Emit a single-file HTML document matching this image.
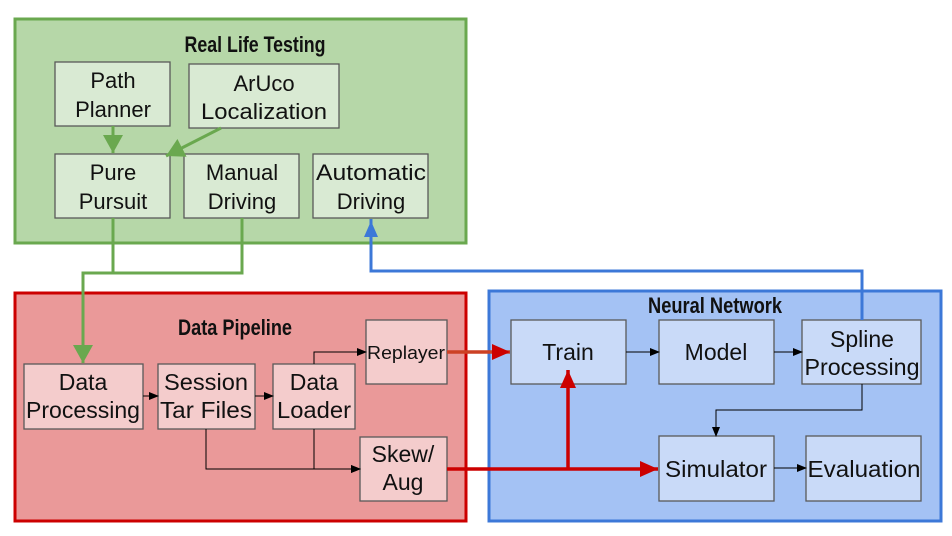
<!DOCTYPE html>
<html><head><meta charset="utf-8"><style>
html,body{margin:0;padding:0;background:#fff;width:952px;height:536px;overflow:hidden}
svg text{font-family:"Liberation Sans",sans-serif;fill:#111}
.t{font-size:22px;text-anchor:middle}
.c{font-size:23px;text-anchor:middle}
.h{font-size:22px;font-weight:bold;text-anchor:middle}
.n{stroke:#595959;stroke-width:1.3}
</style></head><body>
<svg width="952" height="536" viewBox="0 0 952 536" xmlns="http://www.w3.org/2000/svg">
<defs>
<marker id="ab" markerWidth="10" markerHeight="10" refX="9" refY="5" orient="auto" markerUnits="userSpaceOnUse"><path d="M0,1 L10,5 L0,9 z" fill="#000"/></marker>
<marker id="ag" markerWidth="22" markerHeight="24" refX="18" refY="12" orient="auto" markerUnits="userSpaceOnUse"><path d="M0,2 L18,12 L0,22 z" fill="#6aa84f"/></marker>
<marker id="ar" markerWidth="20" markerHeight="20" refX="18" refY="10" orient="auto" markerUnits="userSpaceOnUse"><path d="M0,2 L18,10 L0,18 z" fill="#cc0000"/></marker>
<marker id="abl" markerWidth="20" markerHeight="20" refX="18" refY="10" orient="auto" markerUnits="userSpaceOnUse"><path d="M0,3 L16,10 L0,17 z" fill="#3c78d8"/></marker>
</defs>
<rect x="15" y="19" width="451" height="224" fill="#b6d7a8" stroke="#6aa84f" stroke-width="3"/>
<rect x="15" y="293" width="451" height="228" fill="#ea9999" stroke="#cc0000" stroke-width="3"/>
<rect x="489" y="291" width="452" height="230" fill="#a4c2f4" stroke="#3c78d8" stroke-width="3"/>
<text class="h" x="255" y="52" textLength="141" lengthAdjust="spacingAndGlyphs">Real Life Testing</text>
<text class="h" x="235" y="335" textLength="114" lengthAdjust="spacingAndGlyphs">Data Pipeline</text>
<text class="h" x="715" y="313" textLength="134" lengthAdjust="spacingAndGlyphs">Neural Network</text>
<g fill="#d9ead3">
<rect class="n" x="55" y="62" width="115" height="64"/>
<rect class="n" x="189" y="64" width="150" height="64"/>
<rect class="n" x="55" y="154" width="115" height="64"/>
<rect class="n" x="184" y="154" width="115" height="64"/>
<rect class="n" x="313" y="154" width="115" height="64"/>
</g>
<text class="t" x="113" y="88">Path</text><text class="t" x="113" y="117">Planner</text>
<text class="t" x="264" y="91">ArUco</text><text class="t" x="264" y="119" textLength="126" lengthAdjust="spacingAndGlyphs">Localization</text>
<text class="t" x="113" y="180">Pure</text><text class="t" x="113" y="209">Pursuit</text>
<text class="t" x="242" y="180">Manual</text><text class="t" x="242" y="209">Driving</text>
<text class="t" x="371" y="180" textLength="110" lengthAdjust="spacingAndGlyphs">Automatic</text><text class="t" x="371" y="209">Driving</text>
<g fill="#f4cccc">
<rect class="n" x="24" y="364" width="119" height="65"/>
<rect class="n" x="158" y="364" width="97" height="65"/>
<rect class="n" x="273" y="364" width="82" height="65"/>
<rect class="n" x="366" y="320" width="81" height="64"/>
<rect class="n" x="360" y="437" width="87" height="64"/>
</g>
<text class="c" x="83" y="390">Data</text><text class="c" x="83" y="418" textLength="114" lengthAdjust="spacingAndGlyphs">Processing</text>
<text class="c" x="206" y="390" textLength="84" lengthAdjust="spacingAndGlyphs">Session</text><text class="c" x="206" y="418" textLength="92" lengthAdjust="spacingAndGlyphs">Tar Files</text>
<text class="c" x="314" y="390">Data</text><text class="c" x="314" y="418" textLength="74" lengthAdjust="spacingAndGlyphs">Loader</text>
<text class="t" x="406" y="359" style="font-size:18px" textLength="78" lengthAdjust="spacingAndGlyphs">Replayer</text>
<text class="c" x="403" y="462">Skew/</text><text class="c" x="403" y="490">Aug</text>
<g fill="#c9daf8">
<rect class="n" x="511" y="320" width="115" height="64"/>
<rect class="n" x="659" y="320" width="115" height="64"/>
<rect class="n" x="802" y="320" width="119" height="64"/>
<rect class="n" x="659" y="436" width="115" height="65"/>
<rect class="n" x="806" y="436" width="115" height="65"/>
</g>
<text class="c" x="568" y="360">Train</text>
<text class="c" x="716" y="360">Model</text>
<text class="c" x="862" y="347">Spline</text><text class="c" x="862" y="375" textLength="115" lengthAdjust="spacingAndGlyphs">Processing</text>
<text class="c" x="716" y="477" textLength="102" lengthAdjust="spacingAndGlyphs">Simulator</text>
<text class="c" x="864" y="477" textLength="113" lengthAdjust="spacingAndGlyphs">Evaluation</text>
<line x1="113" y1="126" x2="113" y2="153" stroke="#6aa84f" stroke-width="3" marker-end="url(#ag)"/>
<line x1="221" y1="128" x2="166" y2="156" stroke="#6aa84f" stroke-width="3" marker-end="url(#ag)"/>
<polyline points="113,218 113,273" fill="none" stroke="#6aa84f" stroke-width="3"/>
<polyline points="242,218 242,273 83,273 83,363" fill="none" stroke="#6aa84f" stroke-width="3" marker-end="url(#ag)"/>
<polyline points="862,320 862,271 371,271 371,219" fill="none" stroke="#3c78d8" stroke-width="3" marker-end="url(#abl)"/>
<g stroke="#000" stroke-width="1" fill="none" marker-end="url(#ab)">
<line x1="143" y1="396" x2="158" y2="396"/>
<line x1="255" y1="396" x2="273" y2="396"/>
<polyline points="314,364 314,352 366,352"/>
<polyline points="206,429 206,469 360,469"/>
<polyline points="314,429 314,469 360,469"/>
<line x1="626" y1="352" x2="659" y2="352"/>
<line x1="774" y1="352" x2="802" y2="352"/>
<polyline points="862,384 862,410 716,410 716,436"/>
<line x1="774" y1="468" x2="806" y2="468"/>
</g>
<line x1="447" y1="352" x2="510" y2="352" stroke="#cc4125" stroke-width="3.5" marker-end="url(#ar)"/>
<line x1="447" y1="469" x2="658" y2="469" stroke="#cc0000" stroke-width="3.5" marker-end="url(#ar)"/>
<line x1="568" y1="469" x2="568" y2="370" stroke="#cc0000" stroke-width="3.5" marker-end="url(#ar)"/>
</svg>
</body></html>
